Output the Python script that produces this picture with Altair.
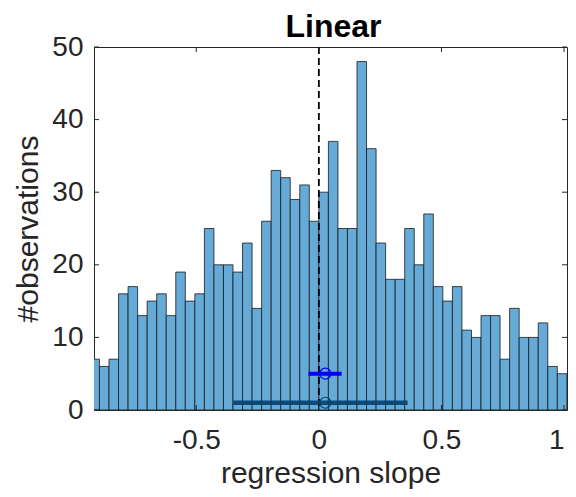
import altair as alt
import pandas as pd

FONT = "Liberation Sans, Arial, Helvetica, sans-serif"

TITLE = ["Linear"]
X_LABEL = "regression slope"
Y_LABEL = "#observations"

BIN_WIDTH = 0.0389
FIRST_EDGE = -0.9336
COUNTS = [7, 6, 7, 16, 17, 13, 15, 16, 13, 19, 15, 16, 25, 20, 20, 19, 23, 14,
          26, 33, 32, 29, 31, 26, 30, 37, 25, 25, 48, 36, 23, 18, 18, 25, 20, 27,
          17, 15, 17, 11, 10, 13, 13, 7, 14, 10, 10, 12, 6, 5]

X_TICKS = [-0.5, 0, 0.5, 1]
Y_TICKS = [0, 10, 20, 30, 40, 50]
X_DOMAIN = [-0.917, 1.012]
Y_DOMAIN = [0, 50]
REF_LINE = [0.0]

# summary bars: [wide (dark), narrow (blue)]
ERR_Y = [1, 5]
ERR_LO = [-0.349, -0.042]
ERR_HI = [0.362, 0.093]
ERR_MEAN = [0.0265, 0.0265]

W, H = 473, 363
AX = "#262626"

lefts = [FIRST_EDGE + i * BIN_WIDTH for i in range(len(COUNTS))]
hist = pd.DataFrame({"left": lefts,
                     "right": [l + BIN_WIDTH for l in lefts],
                     "count": COUNTS})

xs = alt.Scale(domain=X_DOMAIN, nice=False, zero=False)
ys = alt.Scale(domain=Y_DOMAIN, nice=False, zero=False)

x_axis = alt.Axis(values=X_TICKS, labelExpr="toString(datum.value)", ticks=False,
                  domain=False, grid=False, labelFont=FONT, labelFontSize=28,
                  labelColor=AX, labelPadding=16, labelFlush=False, labelOverlap=False,
                  labelAlign={"condition": {"test": "datum.value == 1", "value": "right"},
                              "value": "center"},
                  title=X_LABEL, titleFont=FONT, titleFontSize=30, titleFontWeight="normal",
                  titleColor=AX, titleX=W / 2, titleY=72, titleBaseline="alphabetic",
                  titleAlign="center")
y_axis = alt.Axis(values=Y_TICKS, ticks=False, domain=False, grid=False,
                  labelFont=FONT, labelFontSize=28, labelColor=AX, labelPadding=11,
                  labelFlush=False, labelOverlap=False,
                  title=Y_LABEL, titleFont=FONT, titleFontSize=30, titleFontWeight="normal",
                  titleColor=AX, titleX=-57, titleY=H / 2, titleBaseline="alphabetic",
                  titleAlign="center", titleAngle=270)


def X(field):
    return alt.X(field, scale=xs, axis=x_axis)


def Y(field):
    return alt.Y(field, scale=ys, axis=y_axis)


bars = alt.Chart(hist).mark_bar(fill="#66AAD7", stroke="#1a1a1a", strokeWidth=0.8,
                                clip=True).encode(
    x=X("left:Q"), x2="right:Q", y=Y("count:Q"), y2=alt.datum(0),
)

ref = alt.Chart(pd.DataFrame({"x": REF_LINE})).mark_rule(
    color="black", strokeWidth=1.8, strokeDash=[7, 4]).encode(
    x=X("x:Q"), y=alt.value(0), y2=alt.value(H))

err = pd.DataFrame({"y": ERR_Y, "lo": ERR_LO, "hi": ERR_HI, "m": ERR_MEAN})
dark = err.iloc[[0]]
blue = err.iloc[[1]]

dark_line = alt.Chart(dark).mark_rule(color="#00406e", strokeWidth=4.5, opacity=0.9).encode(
    x=X("lo:Q"), x2="hi:Q", y=Y("y:Q"))
dark_pt = alt.Chart(dark).mark_point(shape="circle", filled=False, size=121,
                                     color="#00406e", strokeWidth=1.2, opacity=1).encode(
    x=X("m:Q"), y=Y("y:Q"))
blue_line = alt.Chart(blue).mark_rule(color="#0000ff", strokeWidth=4).encode(
    x=X("lo:Q"), x2="hi:Q", y=Y("y:Q"))
blue_pt = alt.Chart(blue).mark_point(shape="circle", filled=False, size=121,
                                     color="#0000ff", strokeWidth=1.3, opacity=1).encode(
    x=X("m:Q"), y=Y("y:Q"))

xt = pd.DataFrame({"v": X_TICKS})
yt = pd.DataFrame({"v": Y_TICKS})
bt = alt.Chart(xt).mark_rule(color=AX, strokeWidth=1).encode(
    x=X("v:Q"), y=alt.value(H), y2=alt.value(H - 5))
tt = alt.Chart(xt).mark_rule(color=AX, strokeWidth=1).encode(
    x=X("v:Q"), y=alt.value(0), y2=alt.value(5))
lt = alt.Chart(yt).mark_rule(color=AX, strokeWidth=1).encode(
    y=Y("v:Q"), x=alt.value(0), x2=alt.value(5))
rt = alt.Chart(yt).mark_rule(color=AX, strokeWidth=1).encode(
    y=Y("v:Q"), x=alt.value(W), x2=alt.value(W - 5))

title = alt.Chart(pd.DataFrame({"t": TITLE})).mark_text(
    font=FONT, fontSize=32, fontWeight="bold", color="black",
    baseline="alphabetic", align="center").encode(
    text="t:N", x=alt.value(W / 2 + 3), y=alt.value(-10))

chart = alt.layer(bars, ref, dark_line, dark_pt, blue_line, blue_pt,
                  bt, tt, lt, rt, title).properties(
    width=W, height=H,
    padding={"left": 86, "top": 39, "right": 1, "bottom": 79},
    autosize=alt.AutoSizeParams(type="none"),
).configure_view(stroke=AX, strokeWidth=1)

chart.save("out.html", embed_options={"renderer": "svg", "actions": False})
